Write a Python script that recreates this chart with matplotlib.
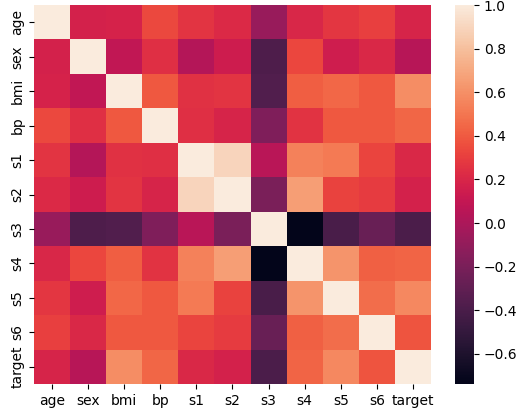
import numpy as np
import pandas as pd
import matplotlib
matplotlib.use("Agg")
import matplotlib.pyplot as plt
import seaborn as sns

labels = ['age', 'sex', 'bmi', 'bp', 's1', 's2', 's3', 's4', 's5', 's6', 'target']

# upper triangle of the correlation matrix, row by row
upper = [
    [0.174, 0.185, 0.335, 0.260, 0.219, -0.075, 0.204, 0.271, 0.302, 0.188],
    [0.088, 0.241, 0.035, 0.143, -0.379, 0.332, 0.150, 0.208, 0.043],
    [0.395, 0.250, 0.261, -0.367, 0.414, 0.446, 0.389, 0.586],
    [0.242, 0.186, -0.179, 0.258, 0.393, 0.390, 0.441],
    [0.897, 0.052, 0.542, 0.516, 0.326, 0.212],
    [-0.196, 0.660, 0.318, 0.291, 0.174],
    [-0.738, -0.399, -0.274, -0.395],
    [0.618, 0.417, 0.430],
    [0.465, 0.566],
    [0.382],
]

n = len(labels)
corr = np.eye(n)
for i, row in enumerate(upper):
    for k, v in enumerate(row):
        j = i + 1 + k
        corr[i, j] = v
        corr[j, i] = v
df = pd.DataFrame(corr, index=labels, columns=labels)

fig = plt.figure(figsize=(5.27, 4.18), dpi=100)
ax = fig.add_axes([0.0645, 0.0813, 0.7533, 0.9067])
cax = fig.add_axes([0.8634, 0.0813, 0.036, 0.9067])
sns.heatmap(df, ax=ax, cbar_ax=cax)
ax.tick_params(axis='x', rotation=0)

plt.savefig('out.png', dpi=100)
